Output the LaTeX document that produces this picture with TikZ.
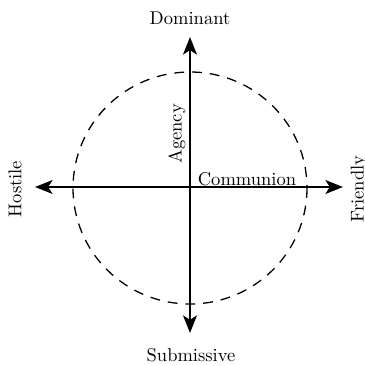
\documentclass[tikz,border=0pt]{standalone}
\usetikzlibrary{arrows.meta}
\begin{document}
\begin{tikzpicture}[x=0.54pt,y=-0.54pt,
  axis/.style={line width=1.05pt,-{Stealth[length=9.5pt,width=7.5pt,inset=2.4pt]}},
  lbl/.style={inner sep=0pt,font=\normalsize}]
\useasboundingbox (0,0) rectangle (365,366);
\coordinate (c) at (190,188);
\draw[dash pattern=on 5.3pt off 4.3pt,line width=0.7pt] (c) circle[x radius=117,y radius=116];
\coordinate (l) at (35,187);
\coordinate (r) at (343,187);
\coordinate (t) at (190,37);
\coordinate (b) at (190,333);
\coordinate (o) at (190,187);
\draw[axis] (o) -- (l);
\draw[axis] (o) -- (r);
\draw[axis] (o) -- (t);
\draw[axis] (o) -- (b);
\node[lbl] (dom) at (190,18) {Dominant};
\node[lbl] (sub) at (191,355) {Submissive};
\node[lbl,rotate=90] (hos) at (15,189) {Hostile};
\node[lbl,rotate=90] (fri) at (359,189) {Friendly};
\node[lbl,rotate=90] (ag) at (177,134) {Agency};
\node[lbl] (com) at (247,179) {Communion};
\end{tikzpicture}
\end{document}
